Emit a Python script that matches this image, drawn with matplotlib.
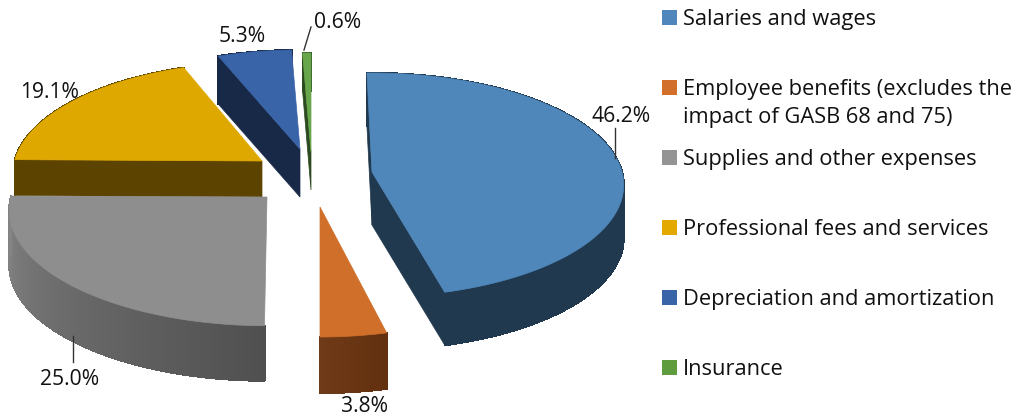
import numpy as np
import matplotlib
matplotlib.use("Agg")
import matplotlib.pyplot as plt
from matplotlib.patches import Polygon, Rectangle
from matplotlib.collections import PolyCollection
from matplotlib.colors import to_rgb

# ---- data ----
categories = ["Salaries and wages",
              "Employee benefits (excludes the\nimpact of GASB 68 and 75)",
              "Supplies and other expenses",
              "Professional fees and services",
              "Depreciation and amortization",
              "Insurance"]
values = [46.2, 3.8, 25.0, 19.1, 5.3, 0.6]
value_labels = ["46.2%", "3.8%", "25.0%", "19.1%", "5.3%", "0.6%"]

# ---- styling / layout ----
top_colors = ["#4f87ba", "#cf6f29", "#8e8e8e", "#dfa800", "#3a64a8", "#68a64c"]
legend_colors = ["#4f86bc", "#d26f2a", "#949494", "#e3a900", "#3a64a8", "#5e9c3d"]
side_from = ["#20394f", "#62300f", "#505050", "#5c4400", "#1a2a48", "#2f4f22"]
side_to = ["#20394f", "#6f3a17", "#858585", "#5c4400", "#1a2a48", "#2f4f22"]
cut_colors = ["#20394f", "#6f3a17", "#555555", "#5c4400", "#182947", "#2c4a20"]
show_start_cut = [True, False, False, True, True, True]
show_end_cut = [True, False, False, False, False, False]
apex = [(372, 172), (320, 207), (267, 197), (262, 161), (300, 149), (311, 152)]
scale_x = [1.0, 1.0, 1.024, 0.99, 1.0, 1.0]
scale_y = [1.0, 1.04, 1.03, 1.0, 1.0, 1.0]
depth = [53, 56, 55, 36, 48, 38]
nudge = [-1.3, 0.0, 0.5, 0.7, 0.0, 0.0]
draw_order = [3, 4, 5, 2, 0, 1]
label_xy = [(621, 116), (365, 406), (70, 379), (50, 93), (242, 37), (338, 23)]
leaders = [((615, 128), (615, 158)), None, ((73, 336), (73, 362)), None, None,
           ((311, 27), (304, 50))]
legend_y = [17, 87, 157, 227, 297, 367]
RX, A, K = 250.0, 110.5, 0.116

plt.rcParams["font.family"] = ["Open Sans", "DejaVu Sans"]
fig = plt.figure(figsize=(10.18, 4.15), dpi=100)
ax = fig.add_axes([0, 0, 1, 1])
ax.set_xlim(0, 1018)
ax.set_ylim(415, 0)
ax.axis("off")


def project(theta_deg, i):
    t = np.radians(theta_deg)
    u, v = np.sin(t), np.cos(t)
    den = 1 + K * v
    return (apex[i][0] + scale_x[i] * RX * u / den,
            apex[i][1] - scale_y[i] * A * v / den)


edges = np.concatenate([[0], np.cumsum(values)]) / sum(values) * 360
for i in draw_order:
    a0, a1 = edges[i] + nudge[i], edges[i + 1] + nudge[i]
    th = np.linspace(a0, a1, max(8, int((a1 - a0) * 2)))
    x, y = project(th, i)
    d = depth[i]
    # outer wall, shaded along the arc
    c0, c1 = np.array(to_rgb(side_from[i])), np.array(to_rgb(side_to[i]))
    quads, cols = [], []
    for j in range(len(th) - 1):
        quads.append([(x[j], y[j]), (x[j + 1], y[j + 1]),
                      (x[j + 1], y[j + 1] + d), (x[j], y[j] + d)])
        f = j / max(1, len(th) - 2)
        cols.append(c0 + (c1 - c0) * f)
    ax.add_collection(PolyCollection(quads, facecolors=cols, edgecolors=cols,
                                     linewidths=0.8, antialiaseds=False, zorder=2))
    # radial cut faces that face the viewer
    ax0, ay0 = apex[i]
    faces = []
    if show_start_cut[i]:
        faces.append((x[0], y[0]))
    if show_end_cut[i]:
        faces.append((x[-1], y[-1]))
    for px, py in faces:
        ax.add_patch(Polygon([(ax0, ay0), (px, py), (px, py + d), (ax0, ay0 + d)],
                             closed=True, fc=cut_colors[i], ec=cut_colors[i],
                             lw=0.5, zorder=2))
    # top face
    ax.add_patch(Polygon(np.column_stack([np.r_[ax0, x], np.r_[ay0, y]]), closed=True,
                         fc=top_colors[i], ec=top_colors[i], lw=0.5, zorder=2))

# data labels and leader lines
for txt, (lx, ly), ld in zip(value_labels, label_xy, leaders):
    ax.text(lx, ly, txt, ha="center", va="center", fontsize=15.2, color="#111111", zorder=5)
    if ld is not None:
        ax.plot([ld[0][0], ld[1][0]], [ld[0][1], ld[1][1]], color="#333333", lw=1.0, zorder=4)

# legend
for name, col, ly in zip(categories, legend_colors, legend_y):
    ax.add_patch(Rectangle((662, ly - 7), 15, 15, fc=col, ec="none", zorder=5))
    ax.text(683, ly + 2, name.split("\n")[0], ha="left", va="center", fontsize=15.75,
            color="#111111", zorder=5)
    if "\n" in name:
        ax.text(683, ly + 30, name.split("\n")[1], ha="left", va="center", fontsize=15.75,
                color="#111111", zorder=5)

fig.savefig("out.png", dpi=100, facecolor="white")
